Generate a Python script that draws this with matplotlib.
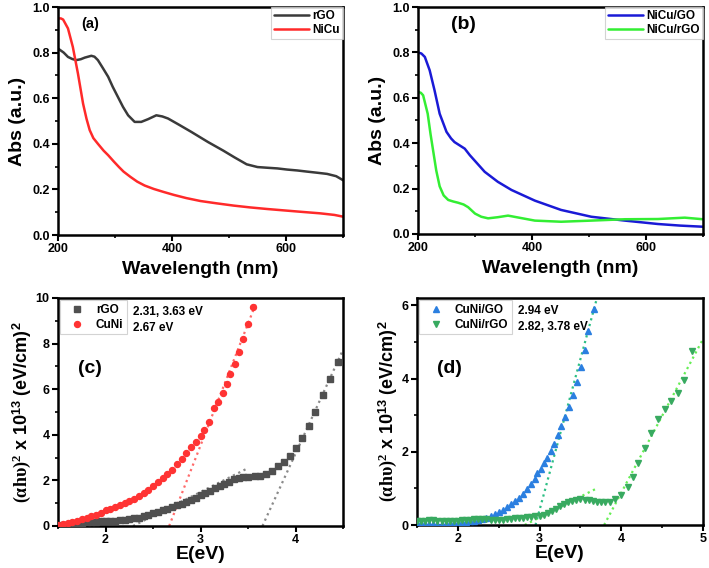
import matplotlib
matplotlib.use("Agg")
import matplotlib.pyplot as plt
from matplotlib.ticker import MultipleLocator, FormatStrFormatter

plt.rcParams['font.family'] = ['Liberation Sans', 'DejaVu Sans']
plt.rcParams['font.weight'] = 'bold'
plt.rcParams['mathtext.fontset'] = 'custom'
plt.rcParams['mathtext.rm'] = 'Liberation Serif'
plt.rcParams['mathtext.it'] = 'Liberation Serif'
plt.rcParams['mathtext.bf'] = 'Liberation Sans:bold'

# ---------------- data (a) ----------------
wl_rgo = [200, 210, 217.5, 225, 232, 240, 247, 258.5, 264, 270, 278, 288, 296, 305, 314, 323, 334.5, 346, 358,
          372.5, 383, 393, 412, 434, 463, 490, 510, 531, 550, 567, 585, 602, 620, 637, 655, 672, 688, 701]
abs_rgo = [0.818, 0.80, 0.781, 0.772, 0.767, 0.771, 0.778, 0.786, 0.782, 0.767, 0.735, 0.694, 0.65, 0.606, 0.562,
           0.525, 0.496, 0.496, 0.508, 0.525, 0.52, 0.511, 0.484, 0.452, 0.408, 0.37, 0.34, 0.31, 0.298, 0.295,
           0.292, 0.287, 0.283, 0.278, 0.273, 0.268, 0.258, 0.239]
wl_nicu = [200, 205, 209, 217.5, 226, 235, 244, 250, 255.6, 262, 270, 280, 288, 298, 307, 315, 327, 339, 352, 368,
           385, 403, 425, 450, 478, 508, 537, 567, 596, 625, 660, 685, 701]
abs_nicu = [0.95, 0.95, 0.945, 0.906, 0.825, 0.708, 0.576, 0.51, 0.46, 0.425, 0.40, 0.37, 0.35, 0.322, 0.298,
            0.278, 0.255, 0.234, 0.217, 0.202, 0.189, 0.176, 0.162, 0.149, 0.139, 0.129, 0.121, 0.114, 0.108,
            0.102, 0.095, 0.088, 0.08]

# ---------------- data (b) ----------------
wl_go = [200, 206, 212, 220.5, 229, 238, 250, 258, 264, 282, 291, 317, 340, 364, 405, 451, 504, 563, 621, 660, 700]
abs_go = [0.80, 0.795, 0.78, 0.721, 0.633, 0.53, 0.45, 0.421, 0.405, 0.376, 0.347, 0.274, 0.23, 0.194, 0.147,
          0.106, 0.076, 0.059, 0.044, 0.037, 0.032]
wl_nrgo = [200, 205, 209, 217, 222, 227, 232, 238, 245, 253, 262, 270, 280, 288, 300, 311, 323, 340, 358, 375, 405,
           451, 504, 563, 621, 668, 700]
abs_nrgo = [0.626, 0.622, 0.611, 0.53, 0.44, 0.36, 0.28, 0.21, 0.17, 0.15, 0.143, 0.138, 0.13, 0.118, 0.09, 0.076,
            0.069, 0.074, 0.081, 0.073, 0.059, 0.054, 0.059, 0.065, 0.066, 0.072, 0.065]

# ---------------- data (c) ----------------
e_rgo = [1.50, 1.55, 1.60, 1.65, 1.70, 1.75, 1.80, 1.85, 1.90, 1.95, 2.00, 2.05, 2.10, 2.15, 2.20, 2.25, 2.30,
         2.35, 2.40, 2.45, 2.50, 2.55, 2.60, 2.65, 2.70, 2.75, 2.80, 2.85, 2.90, 2.95, 3.00, 3.05, 3.10, 3.15,
         3.20, 3.25, 3.30, 3.35, 3.40, 3.45, 3.50, 3.575, 3.627, 3.687, 3.75, 3.814, 3.88, 3.944, 4.004, 4.067,
         4.137, 4.207, 4.285, 4.366, 4.446]
t_rgo = [0.02, 0.04, 0.06, 0.08, 0.11, 0.14, 0.16, 0.18, 0.19, 0.20, 0.21, 0.22, 0.24, 0.26, 0.28, 0.30, 0.33,
         0.37, 0.42, 0.48, 0.55, 0.62, 0.69, 0.76, 0.83, 0.90, 0.98, 1.06, 1.15, 1.25, 1.35, 1.45, 1.55, 1.65,
         1.75, 1.85, 1.95, 2.04, 2.11, 2.15, 2.17, 2.18, 2.20, 2.26, 2.40, 2.62, 2.82, 3.06, 3.40, 3.84,
         4.40, 5.01, 5.75, 6.44, 7.18]
e_cuni = [1.50, 1.55, 1.60, 1.65, 1.70, 1.75, 1.80, 1.85, 1.90, 1.95, 2.00, 2.05, 2.10, 2.15, 2.20, 2.25, 2.30,
          2.35, 2.40, 2.45, 2.50, 2.55, 2.60, 2.65, 2.70, 2.75, 2.80, 2.85, 2.90, 2.95, 3.00, 3.04, 3.09, 3.146,
          3.188, 3.24, 3.276, 3.311, 3.364, 3.41, 3.452, 3.504, 3.557]
t_cuni = [0.05, 0.08, 0.12, 0.17, 0.23, 0.29, 0.35, 0.42, 0.50, 0.59, 0.68, 0.76, 0.84, 0.92, 1.00, 1.10, 1.20,
          1.32, 1.45, 1.60, 1.76, 1.93, 2.10, 2.28, 2.47, 2.70, 2.96, 3.22, 3.47, 3.70, 3.94, 4.20, 4.55, 5.16,
          5.46, 5.82, 6.22, 6.66, 7.11, 7.65, 8.21, 8.86, 9.59]
fit_cuni_x = [2.67, 3.585]
fit_cuni_y = [0.0, 9.78]
fit_rgo1_x = [2.29, 3.505]
fit_rgo1_y = [0.0, 2.55]
fit_rgo2_x = [3.652, 4.5]
fit_rgo2_y = [0.0, 7.73]

# ---------------- data (d) ----------------
e_go = [1.50, 1.55, 1.60, 1.65, 1.70, 1.75, 1.80, 1.85, 1.90, 1.95, 2.00, 2.05, 2.10, 2.15, 2.20, 2.25, 2.30,
        2.35, 2.40, 2.45, 2.50, 2.55, 2.60, 2.65, 2.70, 2.75, 2.80, 2.85, 2.90, 2.94, 2.972, 3.012, 3.053, 3.093,
        3.134, 3.182, 3.223, 3.267, 3.316, 3.356, 3.409, 3.457, 3.506, 3.55, 3.587, 3.66]
t_go = [0.05, 0.05, 0.04, 0.04, 0.04, 0.04, 0.04, 0.04, 0.05, 0.05, 0.06, 0.07, 0.08, 0.10, 0.12, 0.14, 0.17,
        0.20, 0.24, 0.29, 0.35, 0.41, 0.48, 0.56, 0.65, 0.75, 0.86, 0.99, 1.13, 1.27, 1.41, 1.54, 1.68, 1.83,
        2.02, 2.22, 2.47, 2.70, 2.95, 3.22, 3.54, 3.90, 4.32, 4.78, 5.30, 5.91]
e_crgo = [1.50, 1.55, 1.60, 1.65, 1.70, 1.75, 1.80, 1.85, 1.90, 1.95, 2.00, 2.05, 2.10, 2.15, 2.20, 2.25, 2.30,
          2.35, 2.40, 2.45, 2.50, 2.55, 2.60, 2.65, 2.70, 2.75, 2.80, 2.85, 2.90, 2.95, 3.00, 3.05, 3.10, 3.15,
          3.20, 3.25, 3.30, 3.35, 3.40, 3.45, 3.50, 3.55, 3.60, 3.65, 3.70, 3.75, 3.80, 3.86, 3.92, 4.00, 4.085,
          4.146, 4.206, 4.287, 4.36, 4.45, 4.53, 4.61, 4.69, 4.77, 4.87]
t_crgo = [0.10, 0.10, 0.11, 0.13, 0.13, 0.11, 0.10, 0.11, 0.12, 0.12, 0.12, 0.13, 0.14, 0.15, 0.16, 0.16, 0.16,
          0.16, 0.15, 0.15, 0.15, 0.15, 0.16, 0.17, 0.18, 0.19, 0.20, 0.22, 0.23, 0.24, 0.25, 0.28, 0.32, 0.37,
          0.44, 0.51, 0.57, 0.62, 0.66, 0.69, 0.70, 0.69, 0.67, 0.65, 0.63, 0.62, 0.62, 0.64, 0.70, 0.83, 1.04,
          1.31, 1.68, 2.11, 2.52, 2.90, 3.17, 3.40, 3.60, 3.97, 4.76]
fit_go_x = [2.95, 3.70]
fit_go_y = [0.0, 6.18]
fit_crgo1_x = [2.818, 3.70]
fit_crgo1_y = [0.0, 1.0]
fit_crgo2_x = [3.79, 5.0]
fit_crgo2_y = [0.0, 5.08]

W, H = 709, 568
fig = plt.figure(figsize=(W / 100, H / 100), dpi=100)


def ax_px(l, t, r, b):
    return fig.add_axes([l / W, 1 - b / H, (r - l) / W, (b - t) / H])


def style(ax):
    for s in ax.spines.values():
        s.set_linewidth(1.8)
    ax.tick_params(which='major', direction='out', length=4, width=1.5, labelsize=9, pad=2,
                   top=False, right=False)
    ax.tick_params(which='minor', direction='out', length=2.5, width=1.2, top=False, right=False)
    for lab in ax.get_xticklabels() + ax.get_yticklabels():
        lab.set_fontweight('bold')


axa = ax_px(58, 7, 343, 235)
axb = ax_px(418, 7, 703, 234)
axc = ax_px(58, 298, 343, 526)
axd = ax_px(417, 298, 703, 525)

kw = dict(lw=1.8, solid_joinstyle='round', solid_capstyle='round')
# (a)
axa.plot(wl_rgo, abs_rgo, color='#3a3a3a', label='rGO', **kw)
axa.plot(wl_nicu, abs_nicu, color='#ff2a2a', label='NiCu', **kw)
# (b)
axb.plot(wl_go, abs_go, color='#1a1ad6', label='NiCu/GO', **kw)
axb.plot(wl_nrgo, abs_nrgo, color='#33ee33', label='NiCu/rGO', **kw)

for ax, lab, pos, fs in [(axa, '(a)', (0.08, 0.925), 10.5), (axb, '(b)', (0.115, 0.925), 14)]:
    ax.set_xlim(200, 700)
    ax.set_ylim(0, 1.0)
    ax.xaxis.set_major_locator(MultipleLocator(200))
    ax.xaxis.set_minor_locator(MultipleLocator(100))
    ax.yaxis.set_major_locator(MultipleLocator(0.2))
    ax.yaxis.set_minor_locator(MultipleLocator(0.1))
    ax.yaxis.set_major_formatter(FormatStrFormatter('%.1f'))
    ax.set_xlabel('Wavelength (nm)', fontsize=14, fontweight='bold', labelpad=4)
    ax.set_ylabel('Abs (a.u.)', fontsize=14, fontweight='bold', labelpad=4)
    ax.text(pos[0], pos[1], lab, transform=ax.transAxes, fontsize=fs, fontweight='bold',
            ha='left', va='center')
    leg = ax.legend(loc='upper right', fontsize=8.5, frameon=True, fancybox=False, borderaxespad=0.0,
                    handlelength=3.0, handletextpad=0.3, borderpad=0.25, labelspacing=0.2)
    leg.get_frame().set_edgecolor('#c8c8c8')
    leg.get_frame().set_linewidth(0.8)
    for t in leg.get_texts():
        t.set_fontweight('bold')
    style(ax)

# (c)
axc.plot(fit_rgo1_x, fit_rgo1_y, ls=':', color='#8a8a8a', lw=1.6, zorder=2)
axc.plot(fit_rgo2_x, fit_rgo2_y, ls=':', color='#8a8a8a', lw=1.6, zorder=2)
axc.plot(fit_cuni_x, fit_cuni_y, ls=':', color='#ff6a6a', lw=1.6, zorder=2)
axc.plot(e_rgo, t_rgo, ls='none', marker='s', ms=3.8, color='#505050', mec='#505050', label='rGO', zorder=3)
axc.plot(e_cuni, t_cuni, ls='none', marker='o', ms=4.3, color='#ff3333', mec='#ff3333', label='CuNi', zorder=3)
axc.set_xlim(1.5, 4.5)
axc.set_ylim(0, 10)
axc.xaxis.set_major_locator(MultipleLocator(1))
axc.xaxis.set_minor_locator(MultipleLocator(0.5))
axc.yaxis.set_major_locator(MultipleLocator(2))
axc.yaxis.set_minor_locator(MultipleLocator(1))

# (d)
axd.plot(fit_go_x, fit_go_y, ls=':', color='#2dbf85', lw=1.6, zorder=2)
axd.plot(fit_crgo1_x, fit_crgo1_y, ls=':', color='#66ee55', lw=1.6, zorder=2)
axd.plot(fit_crgo2_x, fit_crgo2_y, ls=':', color='#66ee55', lw=1.6, zorder=2)
axd.plot(e_go, t_go, ls='none', marker='^', ms=4.3, color='#2b7fe0', mec='#2b7fe0', label='CuNi/GO', zorder=3)
axd.plot(e_crgo, t_crgo, ls='none', marker='v', ms=4.3, color='#38aa60', mec='#38aa60', label='CuNi/rGO', zorder=3)
axd.set_xlim(1.5, 5.0)
axd.set_ylim(0, 6.2)
axd.xaxis.set_major_locator(MultipleLocator(1))
axd.xaxis.set_minor_locator(MultipleLocator(0.5))
axd.yaxis.set_major_locator(MultipleLocator(2))
axd.yaxis.set_minor_locator(MultipleLocator(1))

ylab = r'$\mathrm{(\alpha h\upsilon)}^{2}$ x 10$^{\mathbf{13}}$ (eV/cm)$^{\mathbf{2}}$'
for ax, lab in [(axc, '(c)'), (axd, '(d)')]:
    ax.set_xlabel('E(eV)', fontsize=14, fontweight='bold', labelpad=0)
    ax.set_ylabel(ylab, fontsize=13, fontweight='bold', labelpad=2)
    ax.text(0.07, 0.69, lab, transform=ax.transAxes, fontsize=14, fontweight='bold', ha='left', va='center')
    leg = ax.legend(loc='upper left', fontsize=8.5, frameon=True, fancybox=False, borderaxespad=0.2,
                    handlelength=2.2, handletextpad=0.5, borderpad=0.3, labelspacing=0.25, markerscale=1.0)
    leg.get_frame().set_edgecolor('#c8c8c8')
    leg.get_frame().set_linewidth(0.8)
    for t in leg.get_texts():
        t.set_fontweight('bold')
    style(ax)

axc.text(133 / W, 1 - 312 / H, '2.31, 3.63 eV', transform=fig.transFigure, fontsize=8.5, fontweight='bold',
         ha='left', va='center')
axc.text(133 / W, 1 - 328 / H, '2.67 eV', transform=fig.transFigure, fontsize=8.5, fontweight='bold',
         ha='left', va='center')
axd.text(518 / W, 1 - 311 / H, '2.94 eV', transform=fig.transFigure, fontsize=8.5, fontweight='bold',
         ha='left', va='center')
axd.text(518 / W, 1 - 327 / H, '2.82, 3.78 eV', transform=fig.transFigure, fontsize=8.5, fontweight='bold',
         ha='left', va='center')

fig.savefig('out.png', dpi=100)
